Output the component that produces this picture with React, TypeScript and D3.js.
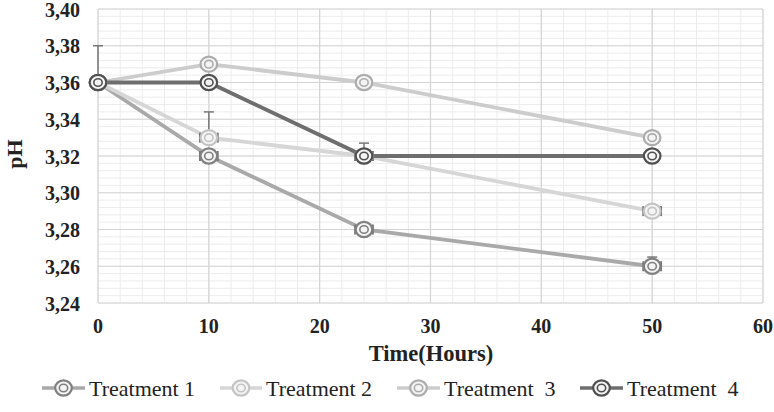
import React from "react";
import * as d3 from "d3";

const hours = [0, 10, 24, 50];
const seriesNames = ["Treatment 1", "Treatment 2", "Treatment  3", "Treatment  4"];
const t1 = [3.36, 3.32, 3.28, 3.26];
const t2 = [3.36, 3.33, 3.32, 3.29];
const t3 = [3.36, 3.37, 3.36, 3.33];
const t4 = [3.36, 3.36, 3.32, 3.32];
const xTicks = [0, 10, 20, 30, 40, 50, 60];
const yTicks = [3.24, 3.26, 3.28, 3.3, 3.32, 3.34, 3.36, 3.38, 3.4];
// error bars: series index, point index, upward y error, x error
const errSeries = [3, 1, 0, 1, 0, 3, 0, 1, 0];
const errPoint = [0, 1, 1, 2, 2, 2, 3, 3, 3];
const errYUp = [0.02, 0.014, 0, 0.007, 0, 0, 0.005, 0, 0];
const errX = [0, 0.8, 0.8, 0, 0.8, 0.8, 0.8, 0.8, 0];

const lineColors = ["#a9a9a9", "#d6d6d6", "#cccccc", "#6e6e6e"];
const markColors = ["#808080", "#c4c4c4", "#acacac", "#505050"];

export default function App() {
  const W = 774, H = 412;
  const x = d3.scaleLinear().domain([0, 60]).range([98, 763]);
  const y = d3.scaleLinear().domain([3.24, 3.4]).range([303, 9]);
  const data = [t1, t2, t3, t4];
  const line = d3.line<number>().x((_, i) => x(hours[i])).y((d) => y(d));
  const minorX = d3.range(0, 60.01, 2);
  const minorY = d3.range(0, 41).map((i) => 3.24 + i * 0.004);
  const fs = { fontFamily: '"Liberation Serif", "Tinos", "Times New Roman", "DejaVu Serif", serif' };
  const marker = (cx: number, cy: number, c: string, k: string) => (
    <g key={k}>
      <ellipse cx={cx} cy={cy} rx={8.3} ry={7.6} fill="#f4f4f4" stroke={c} strokeWidth={2.2} />
      <ellipse cx={cx} cy={cy} rx={4.2} ry={3.8} fill="none" stroke={c} strokeWidth={1.6} />
    </g>
  );
  const legendLine = [42, 220, 397, 580];
  const legendText = [89, 266, 444, 627];
  const legY = 389;
  return (
    <svg width={W} height={H} style={{ position: "absolute", left: 0, top: 0, background: "#fff" }}>
      <rect width={W} height={H} fill="#fff" />
      {minorX.map((v, i) => (
        <line key={"mx" + i} x1={x(v)} x2={x(v)} y1={y(3.4)} y2={y(3.24)} stroke="#ececec" strokeWidth={1} />
      ))}
      {minorY.map((v, i) => (
        <line key={"my" + i} x1={x(0)} x2={x(60)} y1={y(v)} y2={y(v)} stroke="#ececec" strokeWidth={1} />
      ))}
      {xTicks.map((v) => (
        <line key={"gx" + v} x1={x(v)} x2={x(v)} y1={y(3.4)} y2={y(3.24)} stroke="#d4d4d4" strokeWidth={1.2} />
      ))}
      {yTicks.map((v) => (
        <line key={"gy" + v} x1={x(0)} x2={x(60)} y1={y(v)} y2={y(v)} stroke="#d4d4d4" strokeWidth={1.2} />
      ))}
      {yTicks.map((v) => (
        <text key={"ty" + v} x={80} y={y(v) + 7.5} textAnchor="end" style={fs} fontWeight="bold" fontSize={20} fill="#222">
          {v.toFixed(2).replace(".", ",")}
        </text>
      ))}
      {xTicks.map((v) => (
        <text key={"tx" + v} x={x(v)} y={333} textAnchor="middle" style={fs} fontWeight="bold" fontSize={20} fill="#222">
          {v}
        </text>
      ))}
      <text x={431} y={361} textAnchor="middle" style={fs} fontWeight="bold" fontSize={22.5} fill="#222">Time(Hours)</text>
      <text transform={`translate(22,154) rotate(-90)`} textAnchor="middle" style={fs} fontWeight="bold" fontSize={22} fill="#222">pH</text>
      {data.map((s, i) => (
        <path key={"l" + i} d={line(s) || ""} fill="none" stroke={lineColors[i]} strokeWidth={3.8} />
      ))}
      {errSeries.map((si, k) => {
        const v = data[si][errPoint[k]];
        const cx = x(hours[errPoint[k]]);
        const cy = y(v);
        const els: any[] = [];
        if (errYUp[k] > 0) {
          const ty = y(v + errYUp[k]);
          els.push(<line key="v" x1={cx} x2={cx} y1={cy} y2={ty} stroke="#777" strokeWidth={1.5} />);
          els.push(<line key="vc" x1={cx - 5} x2={cx + 5} y1={ty} y2={ty} stroke="#777" strokeWidth={1.5} />);
        }
        if (errX[k] > 0) {
          const l = x(hours[errPoint[k]] - errX[k]);
          const r = x(hours[errPoint[k]] + errX[k]);
          els.push(<line key="h" x1={l} x2={r} y1={cy} y2={cy} stroke="#777" strokeWidth={1.5} />);
          els.push(<line key="hl" x1={l} x2={l} y1={cy - 5} y2={cy + 5} stroke="#777" strokeWidth={2} />);
          els.push(<line key="hr" x1={r} x2={r} y1={cy - 5} y2={cy + 5} stroke="#777" strokeWidth={2} />);
        }
        return <g key={"e" + k}>{els}</g>;
      })}
      {data.map((s, i) => s.map((v, j) => marker(x(hours[j]), y(v), markColors[i], `m${i}-${j}`)))}
      {seriesNames.map((n, i) => (
        <g key={"lg" + i}>
          <line x1={legendLine[i]} x2={legendText[i] - 4} y1={legY - 1} y2={legY - 1} stroke={lineColors[i]} strokeWidth={3.5} />
          {marker((legendLine[i] + legendText[i] - 4) / 2, legY - 1, markColors[i], "lm" + i)}
          <text x={legendText[i]} y={legY + 7} style={{ ...fs, whiteSpace: "pre" }} fontSize={22} fill="#222">{n}</text>
        </g>
      ))}
    </svg>
  );
}
